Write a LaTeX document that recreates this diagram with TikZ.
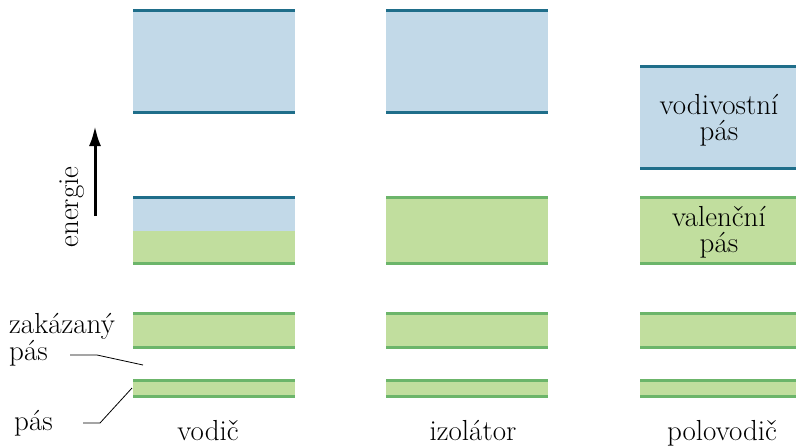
\documentclass[tikz,border=0pt]{standalone}
\usetikzlibrary{arrows.meta}
\begin{document}
\begin{tikzpicture}[x=1pt,y=-1pt,
  bfill/.style={fill=cbfill,draw=none},
  gfill/.style={fill=cgfill,draw=none},
  bline/.style={draw=cbline,line width=3pt},
  gline/.style={draw=cgline,line width=3pt},
  lbl/.style={font=\fontsize{29}{26}\selectfont,inner sep=0pt},
  lead/.style={draw=black,line width=0.8pt}]
\definecolor{cbfill}{HTML}{C2D9E8}
\definecolor{cbline}{HTML}{1F6E8A}
\definecolor{cgfill}{HTML}{C1DE9E}
\definecolor{cgline}{HTML}{6CB56A}
\useasboundingbox (0,0) rectangle (796,445);
% upper bands
\fill[bfill] (133,10.5) rectangle (295,112);
\draw[bline] (133,10.5) -- (295,10.5);
\draw[bline] (133,112) -- (295,112);
\fill[bfill] (386,10.5) rectangle (548,112);
\draw[bline] (386,10.5) -- (548,10.5);
\draw[bline] (386,112) -- (548,112);
\fill[bfill] (640,66) rectangle (797,168.5);
\draw[bline] (640,66) -- (797,66);
\draw[bline] (640,168.5) -- (797,168.5);
% valence bands
\fill[bfill] (133,197) rectangle (295,231);
\fill[gfill] (133,231) rectangle (295,263.5);
\draw[bline] (133,197) -- (295,197);
\draw[gline] (133,263.5) -- (295,263.5);
\fill[gfill] (386,197) rectangle (548,263.5);
\draw[gline] (386,197) -- (548,197);
\draw[gline] (386,263.5) -- (548,263.5);
\fill[gfill] (640,197) rectangle (797,263.5);
\draw[gline] (640,197) -- (797,197);
\draw[gline] (640,263.5) -- (797,263.5);
% lower bands
\foreach \xa/\xb in {133/295,386/548,640/797}{
  \fill[gfill] (\xa,313) rectangle (\xb,347.5);
  \draw[gline] (\xa,313) -- (\xb,313);
  \draw[gline] (\xa,347.5) -- (\xb,347.5);
  \fill[gfill] (\xa,380.5) rectangle (\xb,396.5);
  \draw[gline] (\xa,380.5) -- (\xb,380.5);
  \draw[gline] (\xa,396.5) -- (\xb,396.5);
}
% band texts
\node[lbl,align=center] (vod) at (719,120) {vodivostní\\pás};
\node[lbl,align=center] (val) at (719,232) {valenční\\pás};
% energy arrow
\coordinate (ea) at (95,216);
\coordinate (eb) at (95,126);
\draw[line width=3pt,-{Latex[length=20pt,width=12pt]}] (ea) -- (eb);
\node[lbl,rotate=90] (en) at (72,207) {energie};
% column labels
\node[lbl,anchor=base] (c1) at (208,440) {vodič};
\node[lbl,anchor=base] (c2) at (473,440) {izolátor};
\node[lbl,anchor=base] (c3) at (722,440) {polovodič};
% left labels
\node[lbl,anchor=base west] (zk1) at (9,333) {zakázaný};
\node[lbl,anchor=base west] (zk2) at (9,360) {pás};
\node[lbl,anchor=base west] (ps) at (14,430) {pás};
\coordinate (z0) at (70,355);
\coordinate (z1) at (97,355);
\coordinate (z2) at (143,365);
\draw[lead] (z0) -- (z1) -- (z2);
\coordinate (p0) at (83,423);
\coordinate (p1) at (100,423);
\coordinate (p2) at (132,388);
\draw[lead] (p0) -- (p1) -- (p2);
\end{tikzpicture}
\end{document}
